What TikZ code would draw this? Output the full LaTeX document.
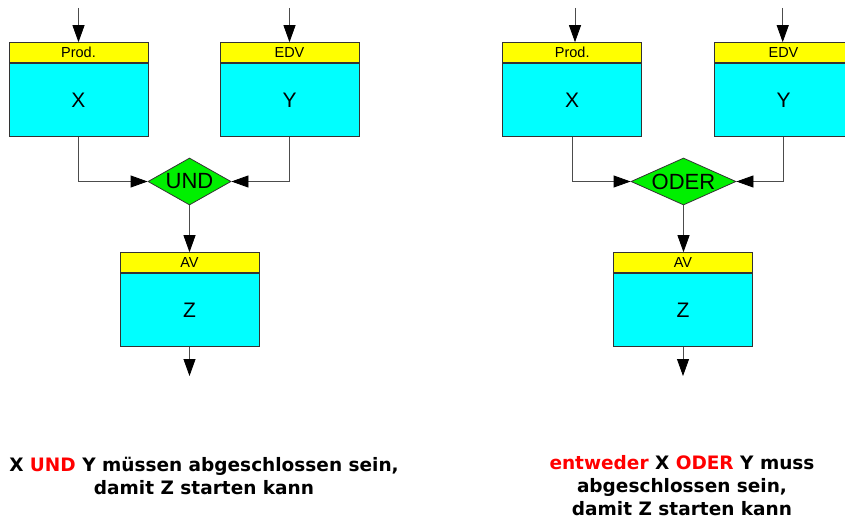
\documentclass[tikz,border=0pt]{standalone}
\usepackage{fontspec}
\setmainfont{Liberation Sans}
\newfontfamily\capfont{DejaVu Sans}
\usetikzlibrary{shapes.geometric,arrows.meta}
\definecolor{hdryellow}{HTML}{FFFF00}
\definecolor{bodycyan}{HTML}{00FFFF}
\definecolor{gategreen}{HTML}{00F000}
\definecolor{capred}{HTML}{FF0000}
\begin{document}
\begin{tikzpicture}[x=1pt,y=-1pt,
 hdr/.style={draw=black!80, line width=0.8pt, fill=hdryellow, minimum width=139pt, minimum height=20pt, inner sep=0pt, font=\fontsize{14.5}{14.5}\selectfont, anchor=south},
 body/.style={draw=black!80, line width=0.8pt, fill=bodycyan, minimum width=139pt, minimum height=73pt, inner sep=0pt, font=\fontsize{21}{21}\selectfont, anchor=north},
 gate/.style={diamond, draw=black!80, line width=0.8pt, fill=gategreen, inner sep=0pt, minimum height=47pt, font=\fontsize{22}{22}\selectfont},
 conn/.style={draw=black!70, line width=0.8pt, -{Triangle[length=17pt,width=12pt,color=black,fill=black]}},
 caption/.style={font=\capfont\bfseries\fontsize{18.5}{23}\selectfont, align=center, anchor=north, inner sep=0pt}
]
\clip (0,0) rectangle (845,519);
% ---------- left: UND ----------
\node[body] (xa) at (78.5,63) {X};
\node[hdr] (xah) at (78.5,63) {Prod.};
\node[body] (ya) at (289.5,63) {Y};
\node[hdr] (yah) at (289.5,63) {EDV};
\node[gate, minimum width=83pt, shape aspect=1.77] (ga) at (189.5,181.5) {UND};
\node[body] (za) at (189.5,273) {Z};
\node[hdr] (zah) at (189.5,273) {AV};
\coordinate (xain) at (78.5,8);
\coordinate (yain) at (289.5,8);
\coordinate (zaout) at (189.5,376);
\draw[conn] (xain) -- (xah.north);
\draw[conn] (yain) -- (yah.north);
\draw[conn] (xa.south) |- (ga.west);
\draw[conn] (ya.south) |- (ga.east);
\draw[conn] (ga.south) -- (zah.north);
\draw[conn] (za.south) -- (zaout);
\node[caption] (capa) at (204,456.5) {X \textcolor{capred}{UND} Y müssen abgeschlossen sein,\\ damit Z starten kann};
% ---------- right: ODER ----------
\node[body] (xb) at (572.2,63) {X};
\node[hdr] (xbh) at (572.2,63) {Prod.};
\node[body] (yb) at (783.5,63) {Y};
\node[hdr] (ybh) at (783.5,63) {EDV};
\node[gate, minimum width=105pt, shape aspect=2.23] (gb) at (683.5,181.5) {ODER};
\node[body] (zb) at (683,273) {Z};
\node[hdr] (zbh) at (683,273) {AV};
\coordinate (xbin) at (575,8);
\coordinate (ybin) at (782.7,8);
\coordinate (zbout) at (683,376);
\draw[conn] (xbin) -- (xbin |- xbh.north);
\draw[conn] (ybin) -- (ybin |- ybh.north);
\draw[conn] (xb.south) |- (gb.west);
\draw[conn] (yb.south) |- (gb.east);
\draw[conn] (gb.south) -- (gb.south |- zbh.north);
\draw[conn] (zb.south) -- (zbout);
\node[caption] (capb) at (682,455) {\textcolor{capred}{entweder} X \textcolor{capred}{ODER} Y muss\\ abgeschlossen sein,\\ damit Z starten kann};
\end{tikzpicture}
\end{document}
